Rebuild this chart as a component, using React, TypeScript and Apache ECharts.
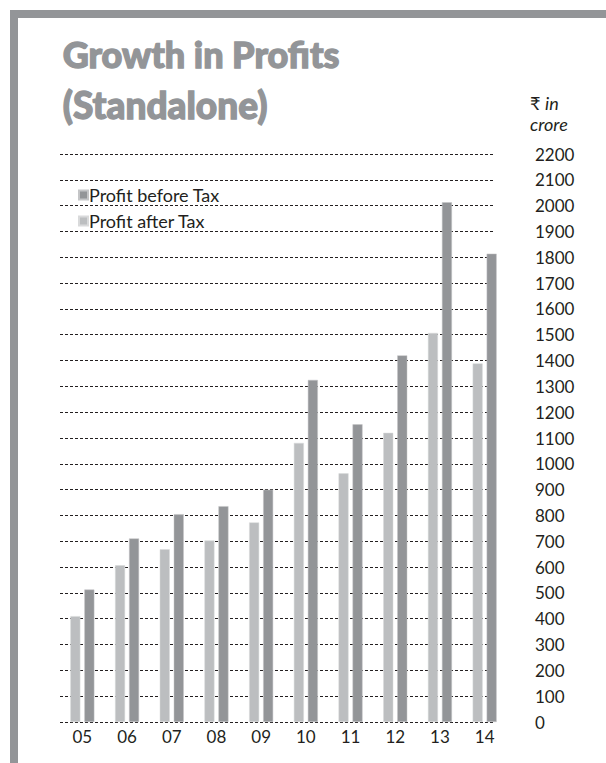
import React, { useEffect, useRef } from "react";
import * as echarts from "echarts";

const categories = ["05", "06", "07", "08", "09", "10", "11", "12", "13", "14"];
const profitAfterTax = [410, 607, 669, 703, 773, 1081, 963, 1120, 1507, 1389];
const profitBeforeTax = [513, 711, 805, 836, 900, 1325, 1153, 1420, 2013, 1814];
const yMin = 0;
const yMax = 2200;
const yInterval = 100;

const FONT = "Lato, 'Open Sans', sans-serif";
const DARK = "#939598";
const LIGHT = "#bcbec0";
const TEXT = "#231f20";

export default function App() {
  const ref = useRef<HTMLDivElement>(null);
  useEffect(() => {
    if (!ref.current) return;
    const chart = echarts.init(ref.current, undefined, { renderer: "svg" });
    const top = 154;
    const bottom = 763 - 722;
    chart.setOption({
      animation: false,
      backgroundColor: "#ffffff",
      textStyle: { fontFamily: FONT },
      graphic: [
        { type: "rect", shape: { x: 10, y: 10, width: 596, height: 8 }, style: { fill: DARK } },
        { type: "rect", shape: { x: 10, y: 10, width: 8, height: 753 }, style: { fill: DARK } },
        {
          type: "text",
          left: 62,
          top: 35,
          style: {
            text: "Growth in Profits",
            fontFamily: FONT,
            fontWeight: 900,
            fontSize: 36,
            fill: DARK,
            stroke: DARK,
            lineWidth: 1.3,
          },
        },
        {
          type: "text",
          left: 62,
          top: 85,
          style: {
            text: "(Standalone)",
            fontFamily: FONT,
            fontWeight: 900,
            fontSize: 37,
            fill: DARK,
            stroke: DARK,
            lineWidth: 1.3,
          },
        },
        {
          type: "text",
          left: 530,
          top: 92,
          style: {
            text: "₹ {i|in}\n{i|crore}",
            fontFamily: FONT,
            fontSize: 18,
            lineHeight: 21,
            fill: TEXT,
            rich: { i: { fontStyle: "italic", fontFamily: FONT, fontSize: 18, fill: TEXT, lineHeight: 21 } },
          },
        },
      ],
      legend: {
        left: 73,
        top: 181,
        orient: "vertical",
        itemWidth: 9,
        itemHeight: 9,
        itemGap: 8,
        icon: "rect",
        data: ["Profit before Tax", "Profit after Tax"],
        textStyle: { fontFamily: FONT, fontSize: 18, color: TEXT, padding: [0, 0, 0, -4] },
      },
      grid: [
        { left: 60, width: 447, top, bottom, containLabel: false },
        { left: 60, width: 433, top, bottom, containLabel: false },
      ],
      xAxis: [
        {
          type: "category",
          gridIndex: 0,
          data: categories,
          axisLine: { show: false },
          axisTick: { show: false },
          axisLabel: { fontFamily: FONT, fontSize: 17, color: TEXT, margin: 6 },
        },
        { type: "category", gridIndex: 1, data: categories, show: false },
      ],
      yAxis: [
        {
          type: "value",
          gridIndex: 0,
          min: yMin,
          max: yMax,
          interval: yInterval,
          show: false,
          splitLine: { show: false },
        },
        {
          type: "value",
          gridIndex: 1,
          position: "right",
          min: yMin,
          max: yMax,
          interval: yInterval,
          axisLine: { show: false },
          axisTick: { show: false },
          axisLabel: {
            fontFamily: FONT,
            fontSize: 17,
            color: TEXT,
            margin: 42,
            align: "left",
            formatter: (v: number) => String(v),
          },
          splitLine: { show: true, lineStyle: { color: "#231f20", width: 1, type: [3, 2] } },
        },
      ],
      series: [
        {
          name: "Profit after Tax",
          type: "bar",
          xAxisIndex: 0,
          yAxisIndex: 0,
          data: profitAfterTax,
          barWidth: 10,
          barGap: "40%",
          itemStyle: { color: LIGHT, borderColor: "#d9dadb", borderWidth: 0.5 },
          z: 3,
        },
        {
          name: "Profit before Tax",
          type: "bar",
          xAxisIndex: 0,
          yAxisIndex: 0,
          data: profitBeforeTax,
          barWidth: 10,
          barGap: "40%",
          itemStyle: { color: DARK, borderColor: "#c4c5c7", borderWidth: 0.5 },
          z: 3,
        },
      ],
    });
    return () => chart.dispose();
  }, []);
  return <div ref={ref} style={{ position: "absolute", left: 0, top: 0, width: 606, height: 763 }} />;
}
